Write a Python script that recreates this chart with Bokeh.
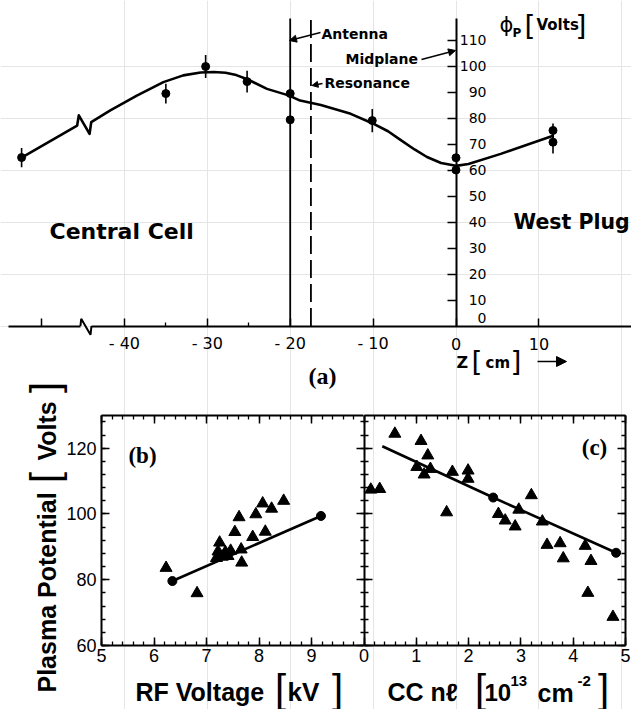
import math
from bokeh.plotting import figure
from bokeh.models import (Range1d, LinearAxis, FixedTicker, SingleIntervalTicker,
                          Arrow, NormalHead)
from bokeh.core.properties import value
from bokeh.embed import file_html
from bokeh.resources import INLINE

# ---------------- data ----------------
# (a) plasma potential profile along z
a_z = [-52.4, -35.0, -30.2, -25.2, -20.0, -20.0, -10.1, 0.0, 0.0, 11.7, 11.7]
a_phi = [64.8, 89.4, 99.8, 94.0, 89.4, 79.3, 79.0, 64.7, 60.0, 75.2, 70.7]
a_err_up = [3.7, 3.8, 4.4, 4.2, 0.0, 0.0, 4.5, 0.0, 0.0, 2.7, 4.5]
a_err_dn = [3.7, 3.8, 4.4, 4.2, 0.0, 0.0, 4.5, 0.0, 0.0, 4.5, 4.4]
a_curve_z = [-52.4, -45.7, -45.5, -44.2, -44.0, -41.7, -38.5, -35.3, -32.9, -30.8, -29.2,
             -27.8, -26.5, -25.1, -22.8, -20.2, -18.8, -16.3, -12.7, -10.1, -8.2, -6.7,
             -5.0, -3.5, -1.8, 0.0, 1.5, 5.4, 11.8]
a_curve_phi = [64.8, 77.1, 81.0, 73.9, 78.4, 82.9, 88.6, 93.8, 96.4, 97.5, 97.7,
               97.4, 96.5, 94.8, 91.2, 88.7, 86.7, 85.0, 81.6, 78.0, 74.9, 71.6,
               67.9, 65.0, 62.7, 61.6, 62.3, 66.2, 73.3]
a_axis_break_z = [-45.3, -45.21, -44.09, -43.97]
a_axis_break_phi = [0.0, 2.77, -3.38, 0.0]
a_xticks = [-50, -40, -30, -20, -10, 0, 10]
a_xtick_labels = ["", "- 40", "- 30", "- 20", "- 10", "0", "10"]
a_xminor = [-35, -25]
a_yticks = [0, 10, 20, 30, 40, 50, 60, 70, 80, 90, 100, 110]
antenna_z = -20.0
resonance_z = -17.5
midplane_z = 0.0

# (b) plasma potential vs RF voltage
b_kv = [6.23, 6.82, 7.19, 7.22, 7.25, 7.30, 7.36, 7.41, 7.46, 7.54, 7.62, 7.66, 7.67,
        7.88, 7.94, 8.07, 8.12, 8.24, 8.47]
b_v = [83.6, 75.9, 86.6, 88.6, 91.3, 87.0, 88.4, 87.2, 88.8, 94.5, 99.0, 89.2, 85.2,
       93.0, 99.9, 103.2, 94.6, 101.6, 104.0]
b_fit_kv = [6.35, 9.18]
b_fit_v = [79.6, 99.4]

# (c) plasma potential vs central-cell line density
c_nl = [0.13, 0.30, 0.59, 1.09, 1.01, 1.22, 1.15, 1.27, 1.58, 1.69, 1.99, 1.99, 3.20,
        2.57, 2.70, 2.89, 2.96, 3.41, 3.50, 3.75, 3.81, 4.23, 4.34, 4.28, 4.76]
c_v = [107.4, 107.6, 124.4, 122.2, 114.3, 117.8, 112.0, 113.7, 100.5, 112.8, 113.2, 110.7,
       105.7, 100.0, 98.0, 96.2, 101.3, 97.7, 90.6, 91.1, 86.5, 90.3, 85.7, 76.0, 68.7]
c_fit_nl = [0.35, 2.47, 4.82]
c_fit_v = [120.6, 105.0, 88.2]
c_dot_nl = [2.47, 4.82]
c_dot_v = [105.0, 88.2]

# ---------------- layout helpers (window pixel -> data) ----------------
def zX(X): return (X - 455.5) / 8.29
def vY(Y): return (325.5 - Y) / 2.6
def kvX(X): return 5 + (X - 101) / 52.5
def nlX(X): return (X - 363.5) / 52.3
def ppY(Y): return 60 + (645 - Y) / 3.288

W, H = 631, 709
p = figure(width=W, height=H, x_range=Range1d(zX(0), zX(W)), y_range=Range1d(vY(H), vY(0)),
           output_backend="svg", toolbar_location=None, min_border=0,
           x_axis_location=None, y_axis_location=None, outline_line_color=None,
           background_fill_color="white", border_fill_color="white")
p.extra_x_ranges = {"kv": Range1d(kvX(0), kvX(W)), "nl": Range1d(nlX(0), nlX(W))}
p.extra_y_ranges = {"pp": Range1d(ppY(H), ppY(0))}

SANS = "DejaVu Sans"
HEL = "Liberation Sans"
SERIF = "Liberation Serif"

def style(ax, tin, tout, min_in, min_out, lw=2.0):
    ax.axis_line_width = lw
    ax.axis_line_color = "black"
    ax.major_tick_line_color = "black"
    ax.minor_tick_line_color = "black"
    ax.major_tick_in = tin
    ax.major_tick_out = tout
    ax.minor_tick_in = min_in
    ax.minor_tick_out = min_out
    ax.major_tick_line_width = 1.5
    ax.minor_tick_line_width = 1.3
    return ax

# ---------- panel (a) axes ----------
ax = LinearAxis(fixed_location=0, bounds=(zX(8), a_axis_break_z[0]),
                ticker=FixedTicker(ticks=a_xticks[:1]), major_label_text_color=None)
p.add_layout(style(ax, 8, 0, 4, 0), "below")
ax = LinearAxis(fixed_location=0, bounds=(a_axis_break_z[-1], zX(W)),
                ticker=FixedTicker(ticks=a_xticks[1:], minor_ticks=a_xminor),
                major_label_text_color=None)
p.add_layout(style(ax, 8, 0, 4, 0), "below")
ax = LinearAxis(fixed_location=midplane_z, bounds=(0, vY(18)),
                ticker=FixedTicker(ticks=a_yticks[1:]), major_label_text_color=None)
p.add_layout(style(ax, 9, 0, 0, 0), "right")
p.line(a_axis_break_z, a_axis_break_phi, line_width=2, color="black")

# x tick labels (a)
p.text(x=a_xticks, y=[vY(343)] * len(a_xticks), text=a_xtick_labels,
       text_font=value(SANS), text_font_size="16px", text_align="center",
       text_baseline="middle", text_color="black")
# y tick labels (a)
p.text(x=[zX(486)] * (len(a_yticks) - 1), y=a_yticks[1:], text=[str(t) for t in a_yticks[1:]],
       text_font=value(SANS), text_font_size="14px", text_align="right",
       text_baseline="middle", text_color="black")
p.text(x=[zX(486)], y=[vY(317)], text=[str(a_yticks[0])],
       text_font=value(SANS), text_font_size="14px", text_align="right",
       text_baseline="middle", text_color="black")

# antenna / resonance lines
p.segment(x0=[antenna_z], y0=[0], x1=[antenna_z], y1=[vY(18)], line_width=1.8, color="black")
p.segment(x0=[resonance_z], y0=[0], x1=[resonance_z], y1=[vY(18)], line_width=1.8,
          color="black", line_dash="18 6")

# curve, error bars, points
p.line(a_curve_z, a_curve_phi, line_width=2.6, color="black", line_join="round")
p.segment(x0=a_z, y0=[v - e for v, e in zip(a_phi, a_err_dn)],
          x1=a_z, y1=[v + e for v, e in zip(a_phi, a_err_up)], line_width=1.6, color="black")
p.scatter(a_z, a_phi, marker="circle", size=8, color="black")

def put(X, Y, s, size, font=SANS, style_="normal", align="left", baseline="middle", angle=0.0):
    p.text(x=[zX(X)], y=[vY(Y)], text=[s], text_font=value(font), text_font_size=f"{size}px",
           text_font_style=style_, text_align=align, text_baseline=baseline,
           angle=angle, text_color="black")

put(49, 231, "Central Cell", 22, style_="bold")
put(513, 221, "West Plug", 20.5, style_="bold")
put(321, 33, "Antenna", 14, style_="bold")
put(345, 58, "Midplane", 14, style_="bold")
put(324, 82, "Resonance", 14, style_="bold")
put(499, 24, "ϕ", 21)
put(512, 32, "P", 12, style_="bold")
put(524, 26, "[", 28)
put(536, 24, "Volts", 15, style_="bold")
put(575, 26, "]", 28)
put(456, 362, "Z", 16, style_="bold")
put(471, 362, "[", 28)
put(485, 362, "cm", 15, style_="bold")
put(510, 362, "]", 28)
put(322, 375, "(a)", 24, font=SERIF, style_="bold", align="center")

for (xs, ys, xe, ye, sz) in [(320, 32, 289, 40, 7), (421, 59, 455, 50, 7),
                             (322, 83, 311.5, 85, 6), (537, 361, 566, 361, 10)]:
    p.add_layout(Arrow(end=NormalHead(size=sz, fill_color="black", line_color="black", line_width=1),
                       x_start=zX(xs), y_start=vY(ys), x_end=zX(xe), y_end=vY(ye),
                       line_width=1.3, line_color="black"))

# ---------- panels (b) and (c) ----------
TL = "18px"
def bax(xr, loc, bounds, ticker, side, tin, tout, min_in, min_out, labels):
    a = LinearAxis(x_range_name=xr, y_range_name="pp", fixed_location=loc, bounds=bounds, ticker=ticker)
    style(a, tin, tout, min_in, min_out, lw=2.0)
    if labels:
        a.major_label_text_font = HEL
        a.major_label_text_font_size = TL
        a.major_label_text_color = "black"
        a.major_label_standoff = 3 if side == "below" else 5
    else:
        a.major_label_text_color = None
    p.add_layout(a, side)

bax("kv", 60, (5, 9.99), SingleIntervalTicker(interval=1, num_minor_ticks=5), "below", 8, 0, 4, 0, True)
bax("kv", 130, (5, 9.99), SingleIntervalTicker(interval=1, num_minor_ticks=5), "above", 8, 0, 4, 0, False)
bax("kv", 5, (60, 130), SingleIntervalTicker(interval=20, num_minor_ticks=5), "left", 8, 0, 4, 0, True)
bax("nl", 0, (60, 130), SingleIntervalTicker(interval=20, num_minor_ticks=5), "left", 8, 8, 4, 4, False)
bax("nl", 60, (0, 5), SingleIntervalTicker(interval=1, num_minor_ticks=5), "below", 8, 0, 4, 0, True)
bax("nl", 130, (0, 5), SingleIntervalTicker(interval=1, num_minor_ticks=5), "above", 8, 0, 4, 0, False)
bax("nl", 5, (60, 130), SingleIntervalTicker(interval=20, num_minor_ticks=5), "right", 8, 0, 4, 0, False)

p.line(b_fit_kv, b_fit_v, line_width=2.6, color="black", x_range_name="kv", y_range_name="pp")
p.scatter(b_kv, b_v, marker="triangle", size=12, color="black", x_range_name="kv", y_range_name="pp")
p.scatter(b_fit_kv, b_fit_v, marker="circle", size=9, color="black", x_range_name="kv", y_range_name="pp")

p.line(c_fit_nl, c_fit_v, line_width=2.6, color="black", x_range_name="nl", y_range_name="pp")
p.scatter(c_nl, c_v, marker="triangle", size=12, color="black", x_range_name="nl", y_range_name="pp")
p.scatter(c_dot_nl, c_dot_v, marker="circle", size=9, color="black", x_range_name="nl", y_range_name="pp")

put(142, 455, "(b)", 23, font=SERIF, style_="bold", align="center")
put(594, 447, "(c)", 23, font=SERIF, style_="bold", align="center")

# axis titles
R = math.pi / 2
put(46, 692, "Plasma Potential", 25, font=HEL, style_="bold", angle=R)
put(44, 477, "[", 40, font=HEL, align="center", angle=R)
put(46, 460, "Volts", 25, font=HEL, style_="bold", angle=R)
put(44, 387, "]", 40, font=HEL, align="center", angle=R)

put(135, 691, "RF Voltage", 25, font=HEL, style_="bold")
put(280, 688, "[", 40, font=HEL, align="center")
put(287, 691, "kV", 26, font=HEL, style_="bold")
put(337, 688, "]", 40, font=HEL, align="center")

put(387, 691, "CC nℓ", 25, font=HEL, style_="bold")
put(480, 688, "[", 40, font=HEL, align="center")
put(484, 692, "10", 24, font=HEL, style_="bold")
put(510, 680, "13", 15, font=HEL, style_="bold")
put(537, 692, "cm", 25, font=HEL, style_="bold")
put(577, 680, "-2", 15, font=HEL, style_="bold")
put(603, 688, "]", 40, font=HEL, align="center")

open("out.html", "w").write(file_html(p, INLINE))
